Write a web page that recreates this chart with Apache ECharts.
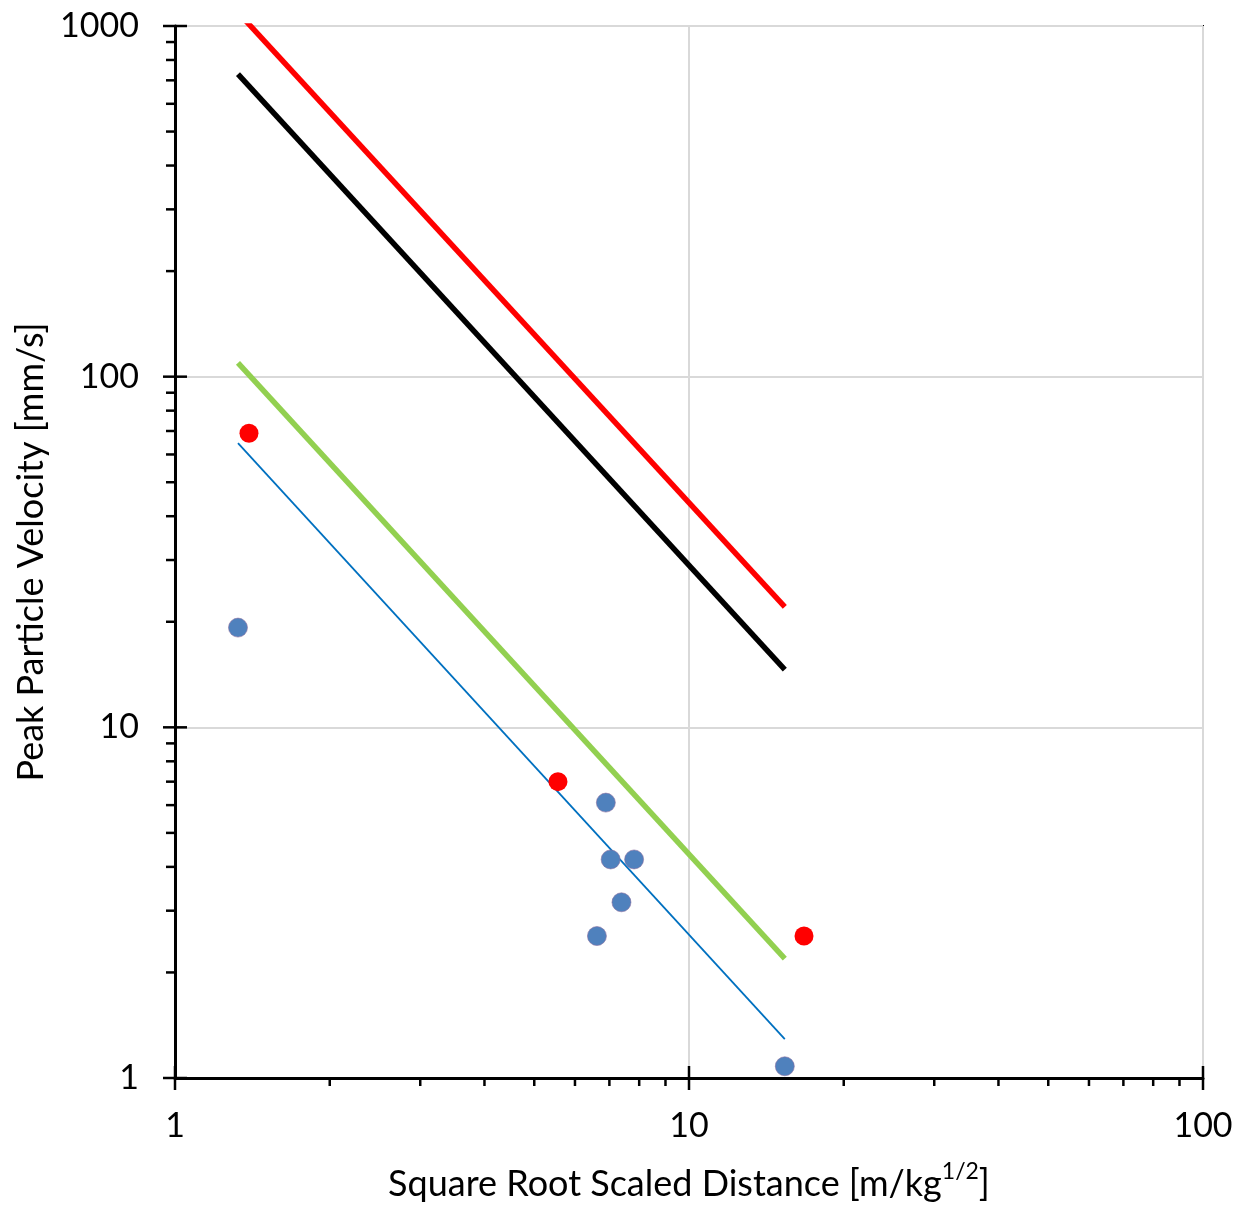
<!DOCTYPE html>
<html>
<head>
<meta charset="utf-8">
<script src="https://cdn.jsdelivr.net/npm/echarts@6/dist/echarts.min.js"></script>
<style>html,body{margin:0;padding:0;background:#fff}#c{width:1244px;height:1205px}</style>
</head>
<body>
<div id="c"></div>
<script>
// ---- data ----
const blueX = [1.326, 6.89, 7.04, 7.82, 7.39, 6.62, 15.36];
const blueY = [19.25, 6.10, 4.20, 4.20, 3.17, 2.54, 1.08];
const redX = [1.393, 5.56, 16.74];
const redY = [69.0, 7.00, 2.54];
const lineX = [1.326, 15.36];
const redLineY = [1094, 22.06];
const blackLineY = [729, 14.6];
const greenLineY = [109.4, 2.19];
const blueLineY = [64.6, 1.29];
const xMajorTicks = [1, 10, 100];
const yMajorTicks = [1, 10, 100, 1000];
const xMinorTicks = [2,3,4,5,6,7,8,9,20,30,40,50,60,70,80,90];
const yMinorTicks = [2,3,4,5,6,7,8,9,20,30,40,50,60,70,80,90,200,300,400,500,600,700,800,900];

const FONT = 'Lato';
const pairs = (xs, ys) => xs.map((x, i) => [x, ys[i]]);

function tickSeries(data, renderFn) {
  return {
    type: 'custom', silent: true, clip: false, z: 10,
    encode: { x: 0, y: 1 },
    data: data,
    renderItem: renderFn
  };
}
const xTickRender = (len, up) => (params, api) => {
  const p = api.coord([api.value(0), api.value(1)]);
  return { type: 'line', shape: { x1: p[0], y1: p[1] - up, x2: p[0], y2: p[1] + len },
           style: { stroke: '#000', lineWidth: 2.5 } };
};
const yTickRender = (len, inn) => (params, api) => {
  const p = api.coord([api.value(0), api.value(1)]);
  return { type: 'line', shape: { x1: p[0] - len, y1: p[1], x2: p[0] + inn, y2: p[1] },
           style: { stroke: '#000', lineWidth: 2.5 } };
};
const plainNum = v => String(Math.round(v));

const chart = echarts.init(document.getElementById('c'), null, { renderer: 'canvas' });
chart.setOption({
  animation: false,
  backgroundColor: '#fff',
  grid: { left: 175, right: 41, top: 26, bottom: 127, show: true, borderColor: '#000', borderWidth: 2,
          containLabel: false, outerBoundsMode: 'none' },
  xAxis: {
    type: 'log', logBase: 10, min: 1, max: 100,
    axisLine: { show: true, lineStyle: { color: '#000', width: 3 } },
    axisTick: { show: false },
    axisLabel: { color: '#000', fontFamily: FONT, fontSize: 34, margin: 31, formatter: plainNum },
    splitLine: { show: true, lineStyle: { color: '#d9d9d9', width: 2 } },
    name: '{m|Square Root Scaled Distance [m/kg}{s|1/2}{m|]}',
    nameLocation: 'middle', nameGap: 80,
    nameTextStyle: {
      color: '#000', fontFamily: FONT, fontSize: 36,
      rich: {
        m: { fontFamily: FONT, fontSize: 36, color: '#000', lineHeight: 44, verticalAlign: 'bottom' },
        s: { fontFamily: FONT, fontSize: 23, color: '#000', lineHeight: 44, verticalAlign: 'top', padding: [2, 0, 0, 0] }
      }
    }
  },
  yAxis: {
    type: 'log', logBase: 10, min: 1, max: 1000,
    axisLine: { show: true, lineStyle: { color: '#000', width: 3 } },
    axisTick: { show: false },
    axisLabel: { color: '#000', fontFamily: FONT, fontSize: 34, margin: 36, formatter: plainNum },
    splitLine: { show: true, lineStyle: { color: '#d9d9d9', width: 2 } },
    name: 'Peak Particle Velocity [mm/s]',
    nameLocation: 'middle', nameGap: 124,
    nameTextStyle: { color: '#000', fontFamily: FONT, fontSize: 36 }
  },
  series: [
    { type: 'line', data: pairs(lineX, redLineY), symbol: 'none', lineStyle: { color: '#ff0000', width: 5.5 }, clip: true, z: 3 },
    { type: 'line', data: pairs(lineX, blackLineY), symbol: 'none', lineStyle: { color: '#000000', width: 5.5 }, clip: true, z: 3 },
    { type: 'line', data: pairs(lineX, greenLineY), symbol: 'none', lineStyle: { color: '#92d050', width: 5.5 }, clip: true, z: 3 },
    { type: 'line', data: pairs(lineX, blueLineY), symbol: 'none', lineStyle: { color: '#0070c0', width: 1.8 }, clip: true, z: 3 },
    { type: 'scatter', data: pairs(blueX, blueY), symbol: 'circle', symbolSize: 19,
      itemStyle: { color: '#4f81bd', borderColor: '#8a6fa0', borderWidth: 0.6, opacity: 1 }, z: 4 },
    { type: 'scatter', data: pairs(redX, redY), symbol: 'circle', symbolSize: 19,
      itemStyle: { color: '#ff0000', opacity: 1 }, z: 4 },
    tickSeries(xMajorTicks.map(v => [v, 1]), xTickRender(12, 12)),
    tickSeries(xMinorTicks.map(v => [v, 1]), xTickRender(8, 0)),
    tickSeries(yMajorTicks.map(v => [1, v]), yTickRender(12, 12)),
    tickSeries(yMinorTicks.map(v => [1, v]), yTickRender(9, 0))
  ]
});
</script>
</body>
</html>
